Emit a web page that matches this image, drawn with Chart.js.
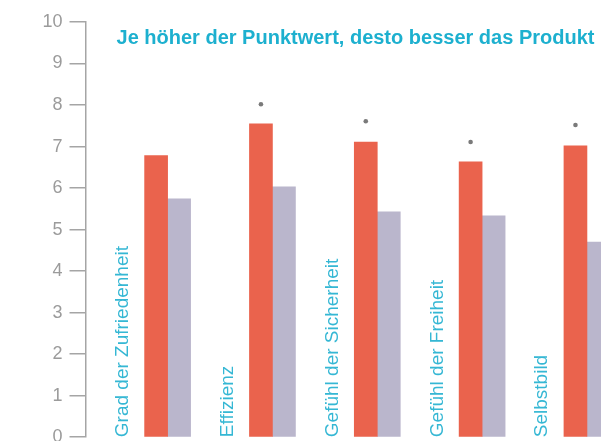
<!DOCTYPE html>
<html>
<head>
<meta charset="utf-8">
<script src="https://cdn.jsdelivr.net/npm/chart.js@4"></script>
<style>
  html, body { margin: 0; padding: 0; background: #fff; overflow: hidden; }
</style>
</head>
<body>
<!-- the reference is cropped at the right and bottom, so the canvas runs a little past the window -->
<canvas id="chart" width="601" height="455"></canvas>
<script>
// categories and values
const categories = ['Grad der Zufriedenheit', 'Effizienz', 'Gefühl der Sicherheit', 'Gefühl der Freiheit', 'Selbstbild'];
const productValues = [6.78, 7.55, 7.11, 6.63, 7.02];
const compareValues = [5.74, 6.03, 5.43, 5.33, 4.70];
// significance markers above the product bars (null = none)
const markerValues = [null, 8.02, 7.61, 7.11, 7.52];
const yTicks = [0, 1, 2, 3, 4, 5, 6, 7, 8, 9, 10];
const title = 'Je höher der Punktwert, desto besser das Produkt';

const cyan = '#1db0cf';

const toPoints = (vals) => vals.map((v, i) => ({ x: i, y: v }));

// category labels written upright next to each bar pair, plus the dots and the title
const extras = {
  id: 'extras',
  afterDatasetsDraw(chart) {
    const ctx = chart.ctx;
    const y = chart.scales.y;
    const bars = chart.getDatasetMeta(0).data;

    ctx.save();
    ctx.fillStyle = '#7a7a7a';
    markerValues.forEach((v, i) => {
      if (v == null) return;
      ctx.beginPath();
      ctx.arc(bars[i].x, y.getPixelForValue(v), 2.3, 0, Math.PI * 2);
      ctx.fill();
    });

    ctx.fillStyle = '#35b7d4';
    ctx.font = '19px "Liberation Sans", Arial, sans-serif';
    ctx.textAlign = 'left';
    ctx.textBaseline = 'alphabetic';
    categories.forEach((label, i) => {
      const w = bars[i].width;
      ctx.save();
      ctx.translate(bars[i].x - w * 1.5 + 6.5, y.getPixelForValue(0));
      ctx.rotate(-Math.PI / 2);
      ctx.fillText(label, 0, 0);
      ctx.restore();
    });

    ctx.fillStyle = cyan;
    ctx.font = 'bold 20px "Liberation Sans", Arial, sans-serif';
    ctx.fillText(title, chart.chartArea.left + 31, 43.5);
    ctx.restore();
  }
};

new Chart(document.getElementById('chart'), {
  type: 'bar',
  data: {
    datasets: [
      {
        label: 'Produkt',
        data: toPoints(productValues),
        backgroundColor: '#ea634d',
        barThickness: 23
      },
      {
        label: 'Vergleich',
        data: toPoints(compareValues),
        backgroundColor: '#bab6cc',
        barThickness: 23
      }
    ]
  },
  options: {
    responsive: false,
    animation: false,
    layout: { padding: { left: 35.5, top: 22, right: 0, bottom: 0 } },
    plugins: {
      legend: { display: false },
      tooltip: { enabled: false }
    },
    scales: {
      x: {
        type: 'linear',
        offset: false,
        min: -0.783,
        max: 4.134,
        display: false
      },
      y: {
        min: 0,
        max: 10,
        afterBuildTicks: (axis) => { axis.ticks = yTicks.map(v => ({ value: v })); },
        ticks: {
          color: '#9b9b9b',
          padding: 7,
          font: { family: '"Liberation Sans", Arial, sans-serif', size: 18 }
        },
        grid: {
          drawOnChartArea: false,
          drawTicks: true,
          tickLength: 16,
          color: '#a5a5a5',
          lineWidth: 1.5
        },
        border: { display: true, color: '#a5a5a5', width: 1.5 }
      }
    }
  },
  plugins: [extras]
});
</script>
</body>
</html>
